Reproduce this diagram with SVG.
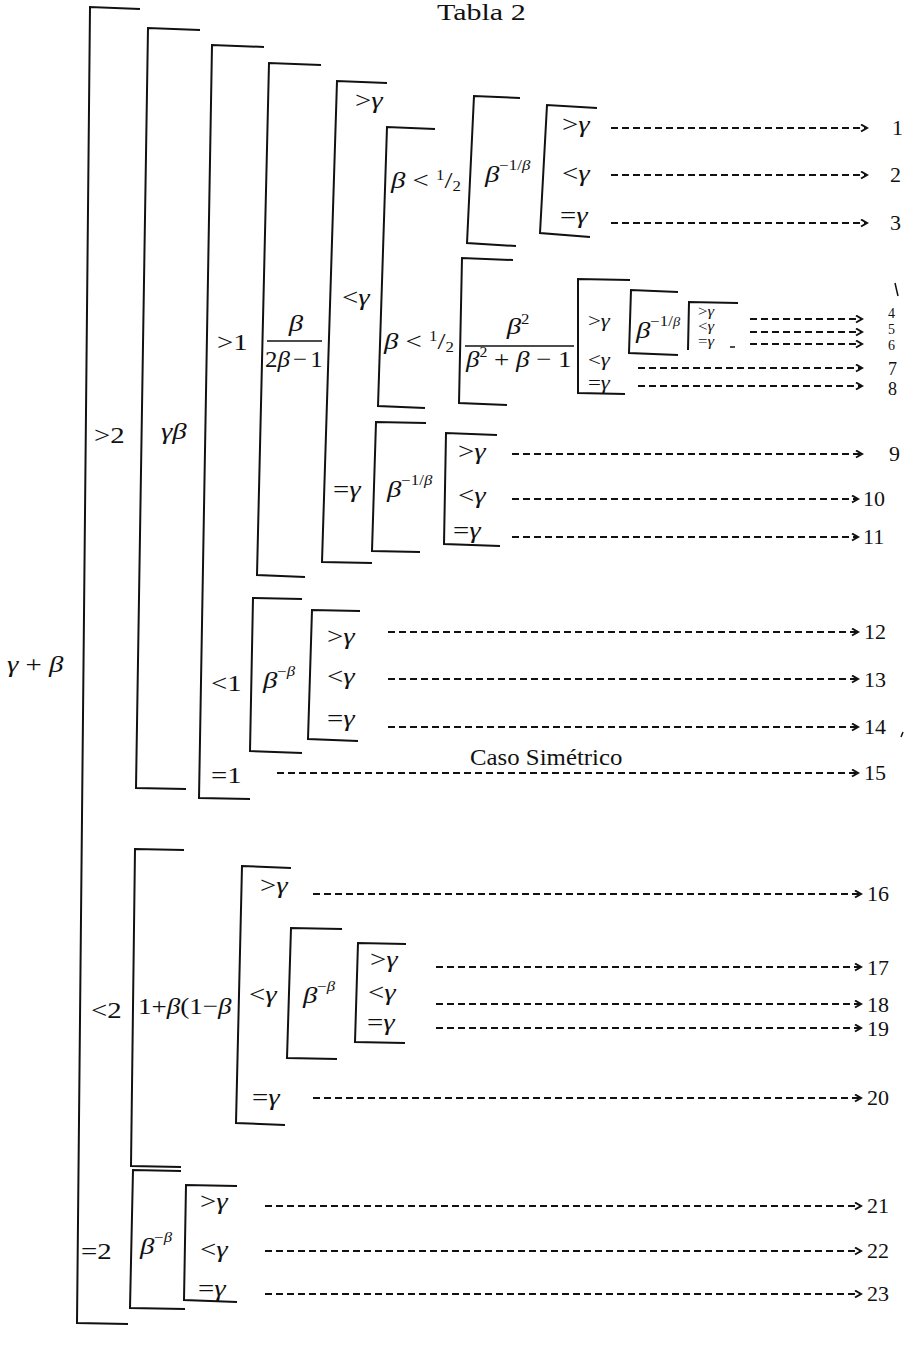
<svg xmlns="http://www.w3.org/2000/svg" width="907" height="1348" viewBox="0 0 907 1348">
<style>
  .br { fill: none; stroke: #111; stroke-width: 2; stroke-linejoin: miter; }
  .m { font-family: "Liberation Serif", "Times New Roman", serif; font-size: 24px; fill: #111; }
  .s { font-size: 14px; }
  .k { font-size: 19px; }
  .n { font-family: "Liberation Serif", "Times New Roman", serif; font-size: 22px; fill: #111; }
  .ns { font-size: 14px; }
  .nm { font-size: 18px; }
  .i { font-style: italic; }
  .sup { font-size: 14px; }
  .ar { fill: none; stroke: #111; stroke-width: 1.8; stroke-dasharray: 7 4; marker-end: url(#ah); }
  .fl { stroke: #111; stroke-width: 1.5; }
  .mk { stroke: #111; stroke-width: 1.5; fill: none; }
</style>
<defs>
  <marker id="ah" markerUnits="userSpaceOnUse" markerWidth="10" markerHeight="10" refX="7" refY="4" orient="auto">
    <path d="M1,0.5 L7,4 L1,7.5" fill="none" stroke="#111" stroke-width="2"/>
  </marker>
</defs>
<rect width="907" height="1348" fill="#fff"/>

<text class="m" font-size="22" transform="matrix(1.25 0 0 1 437 20)">Tabla 2</text>

<g id="root">
  <text class="m" transform="matrix(1.2 0 0 1 7 672)"><tspan class="i">γ</tspan> + <tspan class="i">β</tspan></text>
  <polyline class="br" points="140,9 90,7 77,1323 128,1324"/>
</g>

<g id="gt2">
  <text class="m" transform="matrix(1.2 0 0 1 94 443)">&gt;2</text>
  <polyline class="br" points="200,30 148,28 136,788 186,789"/>
  <text class="m i" transform="matrix(1.2 0 0 1 161 439)">γβ</text>
</g>

<g id="gammabeta">
  <polyline class="br" points="264,47 212,45 199,798 250,799"/>
</g>

<g id="gt1">
  <text class="m" transform="matrix(1.2 0 0 1 217 350)">&gt;1</text>
  <polyline class="br" points="321,65 269,63 257,575 305,577"/>
  <text class="m i" text-anchor="middle" transform="matrix(1.2 0 0 1 296 331)">β</text>
  <line class="fl" x1="267" y1="341" x2="322" y2="341"/>
  <text class="m" font-size="22" textLength="48" lengthAdjust="spacingAndGlyphs" transform="matrix(1.2 0 0 1 265 367)">2<tspan class="i">β</tspan><tspan dx="3">−</tspan><tspan dx="3">1</tspan></text>
</g>

<g id="frac1">
  <polyline class="br" points="387,83 337,81 322,562 372,563"/>
  <text class="m" transform="matrix(1.2 0 0 1 355 108)">&gt;<tspan class="i">γ</tspan></text>
  <text class="m" transform="matrix(1.2 0 0 1 342 305)">&lt;<tspan class="i">γ</tspan></text>
  <text class="m" transform="matrix(1.2 0 0 1 333 497)">=<tspan class="i">γ</tspan></text>
</g>

<g id="lt-gamma-a">
  <polyline class="br" points="435,129 387,127 378,406 425,408"/>
  <text class="m" transform="matrix(1.2 0 0 1 391 188)"><tspan class="i">β</tspan> &lt; <tspan class="sup" dy="-8">1</tspan><tspan dy="8">/</tspan><tspan class="sup" dy="3">2</tspan></text>
  <text class="m" transform="matrix(1.2 0 0 1 384 349)"><tspan class="i">β</tspan> &lt; <tspan class="sup" dy="-8">1</tspan><tspan dy="8">/</tspan><tspan class="sup" dy="3">2</tspan></text>
</g>

<g id="half-a">
  <polyline class="br" points="520,98 474,96 467,243 516,246"/>
  <text class="m" transform="matrix(1.2 0 0 1 485 182)"><tspan class="i">β</tspan><tspan class="sup" dy="-12">−1/</tspan><tspan class="sup i">β</tspan></text>
</g>

<g id="pow-a">
  <polyline class="br" points="597,108 547,105 540,233 590,237"/>
  <text class="m" transform="matrix(1.2 0 0 1 562 132)">&gt;<tspan class="i">γ</tspan></text>
  <text class="m" transform="matrix(1.2 0 0 1 562 181)">&lt;<tspan class="i">γ</tspan></text>
  <text class="m" transform="matrix(1.2 0 0 1 560 223)">=<tspan class="i">γ</tspan></text>
</g>

<g id="half-b">
  <polyline class="br" points="513,260 462,258 459,403 507,405"/>
  <text class="m" text-anchor="middle" transform="matrix(1.2 0 0 1 518 334)"><tspan class="i">β</tspan><tspan class="sup" dy="-10">2</tspan></text>
  <line class="fl" x1="465" y1="346" x2="574" y2="346"/>
  <text class="m" font-size="22" textLength="88" lengthAdjust="spacingAndGlyphs" transform="matrix(1.2 0 0 1 466 367)"><tspan class="i">β</tspan><tspan class="sup" dy="-10">2</tspan><tspan dy="10"> + </tspan><tspan class="i">β</tspan> − 1</text>
</g>

<g id="frac2">
  <polyline class="br" points="630,280 578,279 578,393 625,394"/>
  <text class="m k" transform="matrix(1.2 0 0 1 588 327)">&gt;<tspan class="i">γ</tspan></text>
  <text class="m k" transform="matrix(1.2 0 0 1 588 366)">&lt;<tspan class="i">γ</tspan></text>
  <text class="m k" transform="matrix(1.2 0 0 1 588 389)">=<tspan class="i">γ</tspan></text>
</g>

<g id="gt-gamma-b">
  <polyline class="br" points="678,292 631,290 629,353 678,355"/>
  <text class="m" transform="matrix(1.2 0 0 1 636 338)"><tspan class="i">β</tspan><tspan class="sup" font-size="12" dy="-12">−1/</tspan><tspan class="i" font-size="12">β</tspan></text>
</g>

<g id="pow-b">
  <polyline class="br" points="738,303 689,302 688,350"/>
  <text class="m s" transform="matrix(1.2 0 0 1 698 316)">&gt;<tspan class="i">γ</tspan></text>
  <text class="m s" transform="matrix(1.2 0 0 1 698 331)">&lt;<tspan class="i">γ</tspan></text>
  <text class="m s" transform="matrix(1.2 0 0 1 698 346)">=<tspan class="i">γ</tspan></text>
</g>

<g id="eq-gamma-a">
  <polyline class="br" points="426,423 376,422 372,551 420,552"/>
  <text class="m" transform="matrix(1.2 0 0 1 387 497)"><tspan class="i">β</tspan><tspan class="sup" dy="-12">−1/</tspan><tspan class="sup i">β</tspan></text>
</g>

<g id="pow-c">
  <polyline class="br" points="497,435 446,433 444,544 500,546"/>
  <text class="m" transform="matrix(1.2 0 0 1 458 459)">&gt;<tspan class="i">γ</tspan></text>
  <text class="m" transform="matrix(1.2 0 0 1 458 503)">&lt;<tspan class="i">γ</tspan></text>
  <text class="m" transform="matrix(1.2 0 0 1 453 538)">=<tspan class="i">γ</tspan></text>
</g>

<g id="lt1">
  <text class="m" transform="matrix(1.2 0 0 1 211 691)">&lt;1</text>
  <polyline class="br" points="302,599 253,598 250,751 302,753"/>
  <text class="m" transform="matrix(1.2 0 0 1 263 688)"><tspan class="i">β</tspan><tspan class="sup" dy="-12">−</tspan><tspan class="sup i">β</tspan></text>
</g>

<g id="pow-d">
  <polyline class="br" points="360,611 312,610 308,739 358,741"/>
  <text class="m" transform="matrix(1.2 0 0 1 327 644)">&gt;<tspan class="i">γ</tspan></text>
  <text class="m" transform="matrix(1.2 0 0 1 327 684)">&lt;<tspan class="i">γ</tspan></text>
  <text class="m" transform="matrix(1.2 0 0 1 327 726)">=<tspan class="i">γ</tspan></text>
</g>

<g id="eq1">
  <text class="m" transform="matrix(1.2 0 0 1 211 783)">=1</text>
  <text class="m" font-size="21" textLength="127" lengthAdjust="spacingAndGlyphs" transform="matrix(1.2 0 0 1 470 765)">Caso Simétrico</text>
</g>

<g id="lt2">
  <text class="m" transform="matrix(1.2 0 0 1 91 1018)">&lt;2</text>
  <polyline class="br" points="184,850 135,849 131,1166 181,1167"/>
  <text class="m" font-size="23" textLength="78" lengthAdjust="spacingAndGlyphs" transform="matrix(1.2 0 0 1 138 1014)">1+<tspan class="i">β</tspan>(1−<tspan class="i">β</tspan></text>
</g>

<g id="poly">
  <polyline class="br" points="291,868 242,866 236,1123 285,1125"/>
  <text class="m" transform="matrix(1.2 0 0 1 260 893)">&gt;<tspan class="i">γ</tspan></text>
  <text class="m" transform="matrix(1.2 0 0 1 249 1002)">&lt;<tspan class="i">γ</tspan></text>
  <text class="m" transform="matrix(1.2 0 0 1 252 1105)">=<tspan class="i">γ</tspan></text>
</g>

<g id="lt-gamma-c">
  <polyline class="br" points="342,929 291,928 287,1058 337,1059"/>
  <text class="m" transform="matrix(1.2 0 0 1 303 1003)"><tspan class="i">β</tspan><tspan class="sup" dy="-12">−</tspan><tspan class="sup i">β</tspan></text>
</g>

<g id="pow-e">
  <polyline class="br" points="406,944 358,943 355,1042 405,1043"/>
  <text class="m" transform="matrix(1.2 0 0 1 370 967)">&gt;<tspan class="i">γ</tspan></text>
  <text class="m" transform="matrix(1.2 0 0 1 368 1000)">&lt;<tspan class="i">γ</tspan></text>
  <text class="m" transform="matrix(1.2 0 0 1 367 1030)">=<tspan class="i">γ</tspan></text>
</g>

<g id="eq2">
  <text class="m" transform="matrix(1.2 0 0 1 81 1259)">=2</text>
  <polyline class="br" points="181,1171 133,1170 130,1308 185,1309"/>
  <text class="m" transform="matrix(1.2 0 0 1 140 1254)"><tspan class="i">β</tspan><tspan class="sup" dy="-12">−</tspan><tspan class="sup i">β</tspan></text>
</g>

<g id="pow-f">
  <polyline class="br" points="237,1186 186,1185 184,1300 237,1302"/>
  <text class="m" transform="matrix(1.2 0 0 1 200 1209)">&gt;<tspan class="i">γ</tspan></text>
  <text class="m" transform="matrix(1.2 0 0 1 200 1257)">&lt;<tspan class="i">γ</tspan></text>
  <text class="m" transform="matrix(1.2 0 0 1 198 1296)">=<tspan class="i">γ</tspan></text>
</g>

<g id="connectors">
  <line class="ar" x1="611" y1="128" x2="867" y2="128"/>
  <line class="ar" x1="611" y1="175" x2="867" y2="175"/>
  <line class="ar" x1="611" y1="223" x2="867" y2="223"/>
  <line class="ar" x1="750" y1="319" x2="862" y2="319"/>
  <line class="ar" x1="750" y1="332" x2="862" y2="332"/>
  <line class="ar" x1="750" y1="344" x2="862" y2="344"/>
  <line class="ar" x1="638" y1="368" x2="862" y2="368"/>
  <line class="ar" x1="638" y1="386" x2="862" y2="386"/>
  <line class="ar" x1="512" y1="454" x2="862" y2="454"/>
  <line class="ar" x1="512" y1="499" x2="858" y2="499"/>
  <line class="ar" x1="512" y1="537" x2="858" y2="537"/>
  <line class="ar" x1="388" y1="632" x2="858" y2="632"/>
  <line class="ar" x1="388" y1="679" x2="858" y2="679"/>
  <line class="ar" x1="388" y1="727" x2="858" y2="727"/>
  <line class="ar" x1="277" y1="773" x2="858" y2="773"/>
  <line class="ar" x1="313" y1="894" x2="861" y2="894"/>
  <line class="ar" x1="436" y1="967" x2="861" y2="967"/>
  <line class="ar" x1="436" y1="1004" x2="861" y2="1004"/>
  <line class="ar" x1="436" y1="1028" x2="861" y2="1028"/>
  <line class="ar" x1="313" y1="1098" x2="861" y2="1098"/>
  <line class="ar" x1="265" y1="1206" x2="861" y2="1206"/>
  <line class="ar" x1="265" y1="1251" x2="861" y2="1251"/>
  <line class="ar" x1="265" y1="1294" x2="861" y2="1294"/>
</g>

<g id="outcomes">
  <text class="n" x="892" y="135">1</text>
  <text class="n" x="890" y="182">2</text>
  <text class="n" x="890" y="230">3</text>
  <text class="n ns" x="888" y="318">4</text>
  <text class="n ns" x="888" y="334">5</text>
  <text class="n ns" x="888" y="350">6</text>
  <text class="n nm" x="888" y="375">7</text>
  <text class="n nm" x="888" y="395">8</text>
  <text class="n" x="889" y="461">9</text>
  <text class="n" x="863" y="506">10</text>
  <text class="n" x="863" y="544">11</text>
  <text class="n" x="864" y="639">12</text>
  <text class="n" x="864" y="687">13</text>
  <text class="n" x="864" y="734">14</text>
  <text class="n" x="864" y="780">15</text>
  <text class="n" x="867" y="901">16</text>
  <text class="n" x="867" y="975">17</text>
  <text class="n" x="867" y="1012">18</text>
  <text class="n" x="867" y="1036">19</text>
  <text class="n" x="867" y="1105">20</text>
  <text class="n" x="867" y="1213">21</text>
  <text class="n" x="867" y="1258">22</text>
  <text class="n" x="867" y="1301">23</text>
</g>

<g id="marks">
  <path class="mk" d="M895,283 L898,296"/>
  <path class="mk" d="M730,347 L735,347"/>
  <path class="mk" d="M903,732 L901,737"/>
</g>
</svg>
